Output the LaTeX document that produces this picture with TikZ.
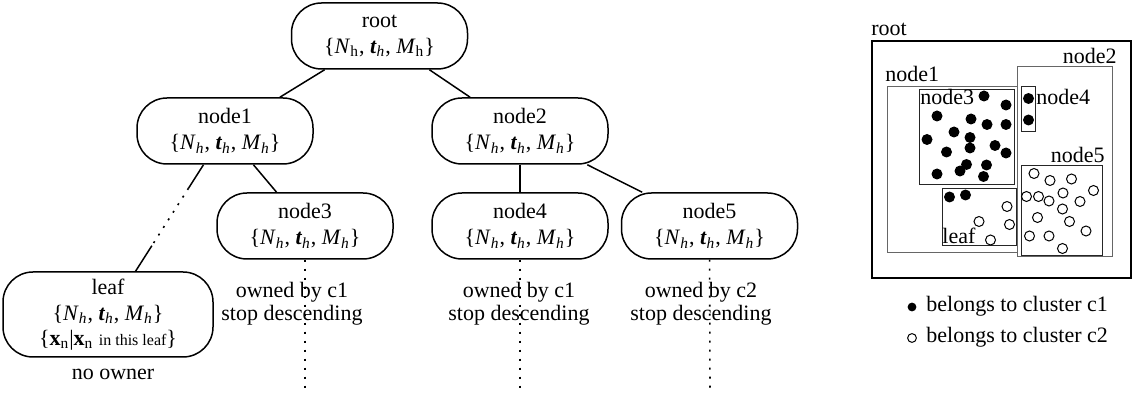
\documentclass[tikz,border=0pt]{standalone}
\usepackage{amsmath}
\usepackage{fontspec}
\setmainfont{Liberation Serif}

\newcommand{\hstat}{\{\textit{N}$_{\textit{h}}$, \textbf{\textit{t}}$_{\textit{h}}$, \textit{M}$_{\textit{h}}$\}}
\newcommand{\rootstat}{\{\textit{N}$_{\text{h}}$, \textbf{\textit{t}}$_{\textit{h}}$, \textit{M}$_{\text{h}}$\}}

\begin{document}
\begin{tikzpicture}[x=0.5pt,y=-0.5pt,
  treenode/.style={draw,line width=0.75pt,rounded corners=15pt,minimum width=88pt,minimum height=33pt,
    inner sep=0pt,align=center,font=\fontsize{11}{13}\selectfont},
  ownerlabel/.style={align=center,inner sep=0pt,font=\fontsize{11}{11.5}\selectfont},
  edge/.style={line width=0.75pt},
  dotline/.style={line width=0.8pt,dash pattern=on 1pt off 3.5pt},
  region/.style={line width=0.5pt,draw=black!60},
  subregion/.style={line width=0.5pt,draw=black!85},
  tag/.style={inner sep=0pt,font=\fontsize{11}{13}\selectfont}]
  \useasboundingbox (0,0) rectangle (1134,394);

  \node[treenode] (root) at (379.5,36) {root\\\rootstat};
  \node[treenode] (node1) at (225,131) {node1\\\hstat};
  \node[treenode] (node2) at (520,131) {node2\\\hstat};
  \node[treenode] (node3) at (305,226) {node3\\\hstat};
  \node[treenode] (node4) at (520,226) {node4\\\hstat};
  \node[treenode] (node5) at (709.5,226) {node5\\\hstat};
  \node[treenode,minimum width=105pt,minimum height=42.5pt] (leaf) at (108,314.5)
    {leaf\\[0pt]\hstat\\[-0.5pt]\{\textbf{x}$_{\text{n}}$|\textbf{x}$_{\text{n}}$ {\fontsize{8}{9}\selectfont in this leaf}\}};

  \draw[edge] (root) -- (node1);
  \draw[edge] (root) -- (node2);
  \draw[edge] (node1) -- (node3);
  \draw[edge] (node2) -- (node4);
  \draw[edge] (node2) -- (node5);
  \path (node1) -- coordinate[pos=.22] (split1) coordinate[pos=.76] (split2) (leaf);
  \draw[edge] (node1) -- (split1);
  \draw[dotline] (split1) -- (split2);
  \draw[edge] (split2) -- (leaf);

  \node[ownerlabel] (own3) at (292,304) {owned by c1\\stop descending};
  \node[ownerlabel] (own4) at (519,304) {owned by c1\\stop descending};
  \node[ownerlabel] (own5) at (701,304) {owned by c2\\stop descending};
  \node[ownerlabel] (noown) at (113,374) {no owner};

  \foreach \n/\px in {3/305,4/520,5/710} {
    \coordinate (down\n) at (\px,393);
    \draw[dotline] (node\n) -- (down\n);
  }

  \draw[line width=1pt] (872,41) rectangle (1131,278);
  \draw[region] (887,87) rectangle (1017,253);
  \draw[region] (1017,67) rectangle (1112,257);
  \draw[subregion] (919,90) rectangle (1014,185);
  \draw[subregion] (1021,87) rectangle (1035,132);
  \draw[subregion] (1021,166) rectangle (1102,256);
  \draw[subregion] (942,189) rectangle (1016,246);

  \node[tag,anchor=base west] (rtag) at (871,36) {root};
  \node[tag,anchor=base west] (tag1) at (885,82) {node1};
  \node[tag,anchor=base east] (tag2) at (1117,64) {node2};
  \node[tag,anchor=base west] (tag3) at (920,105) {node3};
  \node[tag,anchor=base west] (tag4) at (1036,105) {node4};
  \node[tag,anchor=base east] (tag5) at (1105,163) {node5};
  \node[tag,anchor=base west] (tagleaf) at (942,244) {leaf};

  \foreach \px/\py in {984/96,1006/105,937/116,971/119,987/124.5,1006/124.5,954/132,970/137.5,
      927/139.5,995/145.5,946.5/152,970/148,1006/153,966.5/164.5,960/171,986.5/165,937/174,983.5/176.5,
      1028.5/98.5,1028.5/120,949.5/197,965.5/195}
    \fill (\px,\py) circle (2.75pt);
  \foreach \px/\py in {1007/206.5,979/221.5,1009.5/224.5,990.5/240,
      1034/173.5,1050/180.5,1071.5/179,1093.5/190.5,1026.5/196.5,1038.5/196.5,1049/201,1063/193,
      1080/201.5,1062.5/209,1037.5/217.5,1069.5/221.5,1086/231,1029.5/236,1049/236,1062.5/248.5}
    \draw[line width=0.5pt] (\px,\py) circle (2.5pt);

  \fill (912,307) circle (2.2pt);
  \node[tag,anchor=base west] (key1) at (926,312) {belongs to cluster c1};
  \draw[line width=0.5pt] (912,338) circle (2.2pt);
  \node[tag,anchor=base west] (key2) at (926,343) {belongs to cluster c2};
\end{tikzpicture}
\end{document}
